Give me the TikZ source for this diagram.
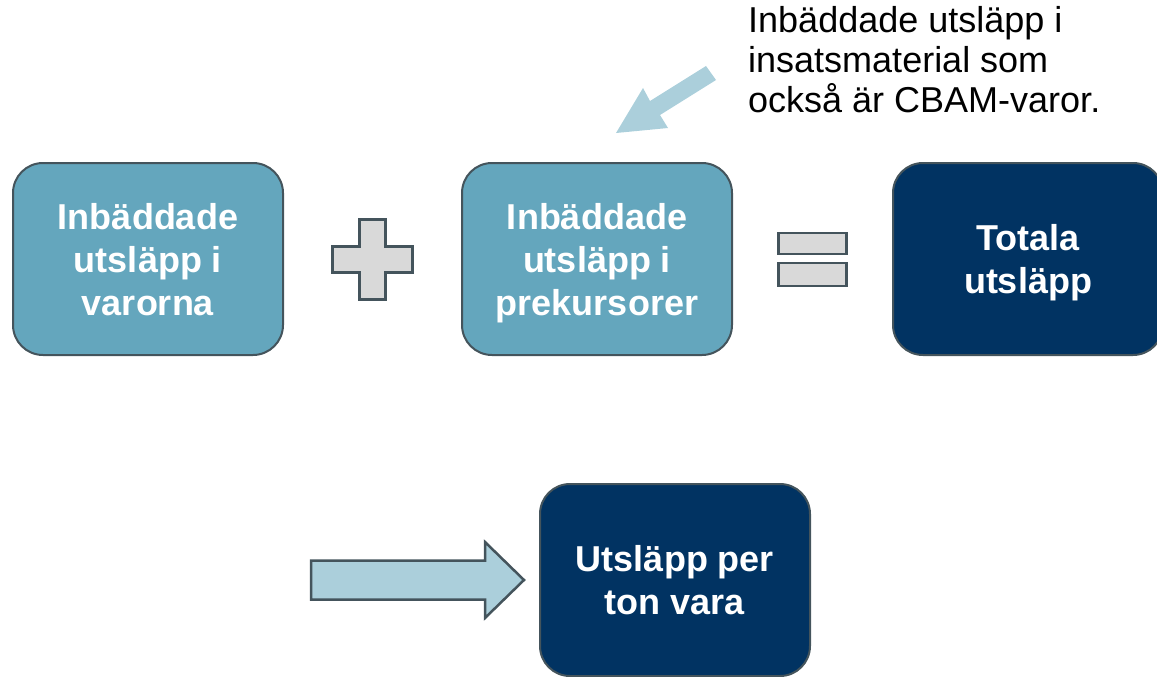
\documentclass[tikz,border=0pt]{standalone}
\usepackage{fontspec}
\setmainfont{Liberation Sans}
\usetikzlibrary{calc}
\definecolor{kant}{RGB}{68,84,92}
\definecolor{havsbla}{RGB}{100,166,189}
\definecolor{marin}{RGB}{1,51,98}
\definecolor{ljusgra}{RGB}{217,217,217}
\definecolor{pilbla}{RGB}{171,207,219}

\begin{document}
\begin{tikzpicture}[x=1pt,y=-1pt,
kasse/.style={draw=kant,line width=2pt,rounded corners=30pt,minimum width=270pt,minimum height=192pt,align=center,text=white,text depth=0pt,font=\fontsize{36}{43}\selectfont\bfseries},
ljus/.style={kasse,fill=havsbla}, mork/.style={kasse,fill=marin},
tecken/.style={draw=kant,line width=2.5pt,fill=ljusgra}]
\useasboundingbox (0,0) rectangle (1157,677);
\node [ljus] (varor) at (148,259) {Inbäddade\\utsläpp i\\varorna};
\node [ljus] (prek) at (597,259) {Inbäddade\\utsläpp i\\prekursorer};
\node [mork] (total) at (1028,259) {Totala\\utsläpp};
\node [mork] (perton) at (675,580) {Utsläpp per\\ton vara};
\node [anchor=north west,inner sep=0pt,align=left,font=\fontsize{36}{40}\selectfont] (not) at (748,6) {Inbäddade utsläpp i\\insatsmaterial som\\också är CBAM-varor.};
\coordinate (plus) at ($(varor.east)!0.5!(prek.west)$);
\coordinate (lika) at ($(prek.east)!0.5!(total.west)$);
% plus och lika med
\draw [tecken,line width=3pt,shift={(plus)}] (-13,-40) -- (13,-40) -- (13,-13) -- (40,-13) -- (40,13) -- (13,13) -- (13,40) -- (-13,40) -- (-13,13) -- (-40,13) -- (-40,-13) -- (-13,-13) -- cycle;
\draw [tecken,shift={(lika)}] (-34,-26) rectangle (34,-5) (-34,4) rectangle (34,27);
% pilar
\draw [tecken,fill=pilbla,shift={(perton.west)}] (-228,-19.5) -- (-54,-19.5) -- (-54,-38) -- (-15,0) -- (-54,38) -- (-54,19.5) -- (-228,19.5) -- cycle;
\fill [pilbla] (616,133) -- (643,88) -- (650,101) -- (706,66) -- (716,80) -- (660,115) -- (668,128) -- cycle;
\end{tikzpicture}
\end{document}
